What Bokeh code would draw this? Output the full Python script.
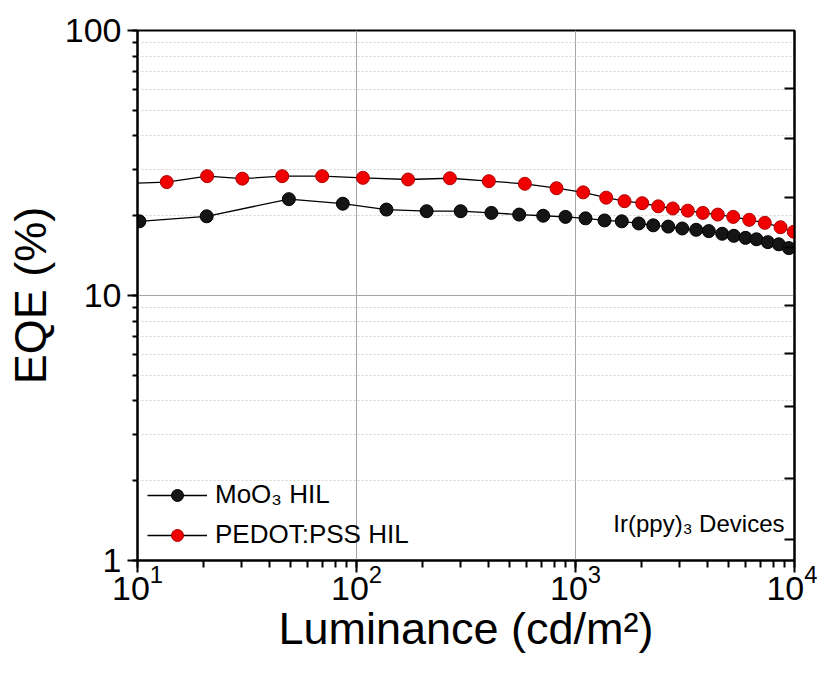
import numpy as np
from bokeh.plotting import figure
from bokeh.models import (LogAxis, FixedTicker, CustomJSTickFormatter, Legend, LegendItem,
                          Label, ColumnDataSource, Range1d)
from bokeh.embed import file_html
from bokeh.resources import INLINE

# ---- data ----
moo3_lum = [10.2, 20.7, 49.1, 86.6, 137, 209, 299, 413, 553, 712, 900, 1111, 1357, 1627,
            1945, 2264, 2651, 3071, 3557, 4062, 4677, 5283, 5974, 6706, 7552, 8478, 9419]
moo3_eqe = [19.05, 19.9, 23.1, 22.2, 21.1, 20.8, 20.8, 20.5, 20.2, 20.0, 19.8, 19.55, 19.2, 19.05,
            18.7, 18.4, 18.2, 17.9, 17.7, 17.5, 17.1, 16.8, 16.5, 16.3, 15.9, 15.6, 15.1]

pedot_lum = [9.0, 13.6, 20.8, 30.1, 45.8, 69.7, 107, 172, 267, 402, 587, 819, 1084, 1381,
             1674, 2016, 2386, 2782, 3257, 3814, 4464, 5251, 6213, 7318, 8634, 9926]
pedot_eqe = [26.5, 26.8, 28.2, 27.6, 28.2, 28.2, 27.8, 27.4, 27.7, 27.0, 26.4, 25.4, 24.5, 23.4,
             22.7, 22.3, 21.7, 21.3, 20.9, 20.5, 20.2, 19.8, 19.3, 18.8, 18.1, 17.4]

series_labels = ["MoO\u2083 HIL", "PEDOT:PSS HIL"]
annotation_text = "Ir(ppy)\u2083 Devices"
x_title = "Luminance (cd/m\u00b2)"
y_title = "EQE (%)"
right_ticks = [60.3, 39.0, 23.5, 15.2, 9.19, 6.04, 3.80, 2.04, 1.195]

FONT = "Liberation Sans"

p = figure(width=817, height=667, x_axis_type="log", y_axis_type="log",
           x_range=Range1d(10, 10000), y_range=Range1d(1, 100),
           output_backend="svg", toolbar_location=None,
           min_border_left=137, min_border_right=23, min_border_top=30, min_border_bottom=107)

p.outline_line_color = "black"
p.outline_line_width = 2
p.background_fill_color = "white"
p.border_fill_color = "white"

# grids
p.xgrid.grid_line_color = "#a6a6a6"
p.xgrid.grid_line_width = 1
p.ygrid.grid_line_color = "#a6a6a6"
p.ygrid.grid_line_width = 1
p.ygrid.minor_grid_line_color = "#d4d4d4"
p.ygrid.minor_grid_line_dash = "2 2"
p.ygrid.minor_grid_line_width = 1

# axes styling
for ax in (p.xaxis[0], p.yaxis[0]):
    ax.axis_line_width = 2
    ax.axis_line_color = "black"
    ax.major_tick_line_width = 2
    ax.minor_tick_line_width = 2
    ax.major_tick_in = 0
    ax.minor_tick_in = 0
    ax.major_label_text_font = FONT
    ax.major_label_text_font_size = "34px"
    ax.major_label_text_color = "black"
    ax.axis_label_text_font = FONT
    ax.axis_label_text_font_size = "45px"
    ax.axis_label_text_font_style = "normal"
    ax.axis_label_text_color = "black"

p.xaxis.major_tick_out = 12
p.xaxis.minor_tick_out = 7
p.yaxis.major_tick_out = 10
p.yaxis.minor_tick_out = 5
p.xaxis.axis_label = x_title
p.yaxis.axis_label = y_title
p.xaxis.major_label_standoff = -8
p.yaxis.major_label_standoff = 6
p.xaxis.axis_label_standoff = 0
p.yaxis.axis_label_standoff = 6
p.yaxis.formatter = CustomJSTickFormatter(code="return String(Math.round(tick));")

# right axis: inward ticks, no labels
rax = LogAxis(ticker=FixedTicker(ticks=right_ticks),
              formatter=CustomJSTickFormatter(code="return '';"))
rax.axis_line_width = 2
rax.major_tick_line_width = 2
rax.major_tick_in = 10
rax.major_tick_out = 0
rax.major_label_standoff = 0
rax.minor_tick_line_color = None
p.add_layout(rax, "right")

# data
src_m = ColumnDataSource(dict(x=moo3_lum, y=moo3_eqe))
src_p = ColumnDataSource(dict(x=pedot_lum, y=pedot_eqe))
p.line("x", "y", source=src_m, line_color="black", line_width=1.3)
p.scatter("x", "y", source=src_m, size=13, fill_color="#151515", line_color="black", line_width=1)
p.line("x", "y", source=src_p, line_color="black", line_width=1.3)
p.scatter("x", "y", source=src_p, size=13, fill_color="#f00000", line_color="#b00000", line_width=1)

# legend-only renderers (no visible data)
nan = np.array([np.nan])
lm_line = p.line(x=nan, y=nan, line_color="black", line_width=1.5)
lm_sc = p.scatter(x=nan, y=nan, size=10, fill_color="#151515", line_color="black")
lp_line = p.line(x=nan, y=nan, line_color="black", line_width=1.5)
lp_sc = p.scatter(x=nan, y=nan, size=10, fill_color="#f00000", line_color="#b00000")

legend = Legend(items=[LegendItem(label=series_labels[0], renderers=[lm_line, lm_sc]),
                       LegendItem(label=series_labels[1], renderers=[lp_line, lp_sc])],
                location=(10, 10), orientation="vertical",
                label_text_font=FONT, label_text_font_size="26px", label_text_color="black",
                glyph_width=60, glyph_height=30, label_height=30, label_standoff=8,
                spacing=9, padding=0, margin=0,
                border_line_color=None, background_fill_alpha=0)
p.add_layout(legend, "center")

lab = Label(x=9000, y=1.38, text=annotation_text, text_font=FONT, text_font_size="24px",
            text_align="right", text_baseline="middle", text_color="black")
p.add_layout(lab)

open("out.html", "w").write(file_html(p, INLINE))
